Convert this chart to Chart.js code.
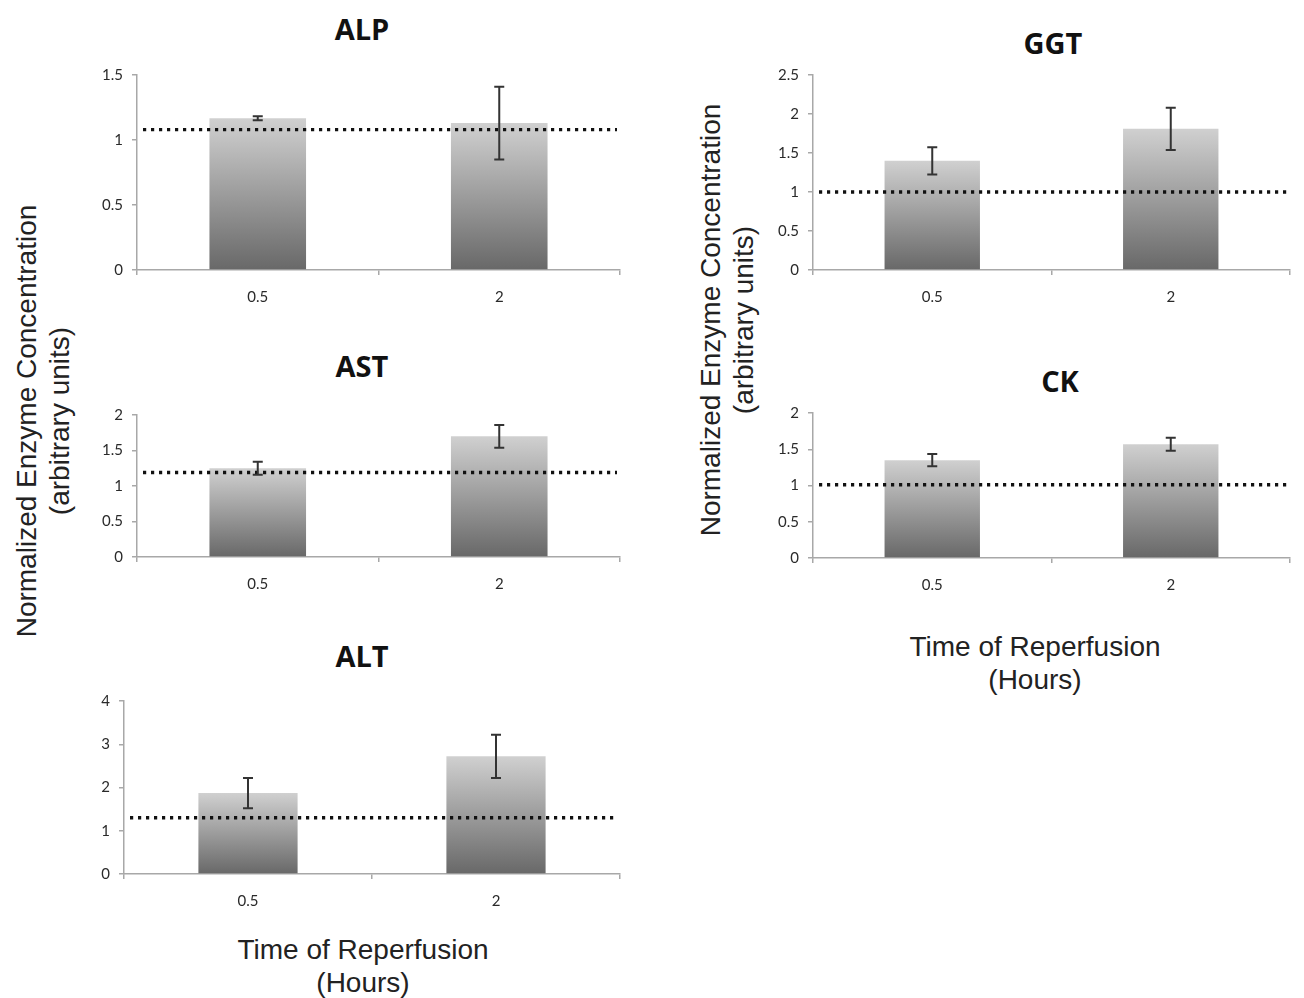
<!DOCTYPE html>
<html>
<head>
<meta charset="utf-8">
<script src="https://cdn.jsdelivr.net/npm/chart.js@4.4.1/dist/chart.umd.min.js"></script>
<style>
  html, body { margin: 0; padding: 0; background: #fff; }
  body { width: 1304px; height: 998px; position: relative; overflow: hidden; }
  .box { position: absolute; }
  .ttl { position: absolute; font-family: "Open Sans", sans-serif; font-weight: bold; font-size: 29px; color: #111; transform: translate(-50%, -50%); white-space: nowrap; }
  .axt { position: absolute; font-family: "Liberation Sans", Arial, sans-serif; font-size: 28px; color: #222; text-align: center; line-height: 33px; white-space: nowrap; transform: translate(-50%, -50%); }
  .axt.rot { transform: translate(-50%, -50%) rotate(-90deg); }
</style>
</head>
<body>

<div class="ttl" style="left:362px; top:28px;">ALP</div>
<div class="ttl" style="left:362px; top:365px;">AST</div>
<div class="ttl" style="left:362px; top:655px;">ALT</div>
<div class="ttl" style="left:1053px; top:42px;">GGT</div>
<div class="ttl" style="left:1060px; top:380px;">CK</div>

<div class="axt rot" style="left:43px; top:421px;">Normalized Enzyme Concentration<br>(arbitrary units)</div>
<div class="axt rot" style="left:727px; top:320px;">Normalized Enzyme Concentration<br>(arbitrary units)</div>
<div class="axt" style="left:363px; top:966px;">Time of Reperfusion<br>(Hours)</div>
<div class="axt" style="left:1035px; top:663px;">Time of Reperfusion<br>(Hours)</div>

<div class="box" id="b_alp"><canvas id="alp"></canvas></div>
<div class="box" id="b_ast"><canvas id="ast"></canvas></div>
<div class="box" id="b_alt"><canvas id="alt"></canvas></div>
<div class="box" id="b_ggt"><canvas id="ggt"></canvas></div>
<div class="box" id="b_ck"><canvas id="ck"></canvas></div>

<script>
// time of reperfusion (hours)
const categories = ['0.5', '2'];

// bar means and error (+/-) per enzyme
const alpValues = [1.167, 1.13];
const alpErrors = [0.015, 0.28];
const astValues = [1.25, 1.70];
const astErrors = [0.09, 0.16];
const altValues = [1.87, 2.72];
const altErrors = [0.35, 0.50];
const ggtValues = [1.40, 1.81];
const ggtErrors = [0.175, 0.27];
const ckValues = [1.35, 1.57];
const ckErrors = [0.085, 0.09];

// dotted reference level per enzyme
const alpBaseline = 1.08;
const astBaseline = 1.19;
const altBaseline = 1.30;
const ggtBaseline = 1.0;
const ckBaseline = 1.01;

// y axis ranges
const alpTicks = { max: 1.5, step: 0.5 };
const astTicks = { max: 2, step: 0.5 };
const altTicks = { max: 4, step: 1 };
const ggtTicks = { max: 2.5, step: 0.5 };
const ckTicks = { max: 2, step: 0.5 };

// chart.js keeps room above the area for the top y label (measured ~18px)
const Y_W = 40, TOP_OVER = 18, PAD_R = 8, X_H = 40;

function barFill(ctx) {
    const chart = ctx.chart;
    if (!chart.chartArea || ctx.type !== 'data') return '#999';
    const y = chart.scales.y;
    const top = y.getPixelForValue(ctx.raw);
    const bottom = y.getPixelForValue(0);
    const g = chart.ctx.createLinearGradient(0, top, 0, bottom);
    g.addColorStop(0, '#d0d0d0');
    g.addColorStop(1, '#686868');
    return g;
}

function extrasPlugin(errors, baseline) {
    return {
        id: 'extras',
        afterDatasetsDraw(chart) {
            const c = chart.ctx;
            const y = chart.scales.y;
            const meta = chart.getDatasetMeta(0);
            const area = chart.chartArea;

            // dotted reference line
            const by = y.getPixelForValue(baseline);
            c.save();
            c.strokeStyle = '#111';
            c.lineWidth = 3.4;
            c.setLineDash([3.2, 4.8]);
            c.beginPath();
            c.moveTo(area.left + 6, by);
            c.lineTo(area.right - 3, by);
            c.stroke();
            c.restore();

            // error bars
            c.save();
            c.strokeStyle = '#333';
            c.lineWidth = 2;
            meta.data.forEach((bar, i) => {
                const v = chart.data.datasets[0].data[i];
                const yt = y.getPixelForValue(v + errors[i]);
                const yb = y.getPixelForValue(v - errors[i]);
                c.beginPath();
                c.moveTo(bar.x, yt); c.lineTo(bar.x, yb);
                c.moveTo(bar.x - 5, yt); c.lineTo(bar.x + 5, yt);
                c.moveTo(bar.x - 5, yb); c.lineTo(bar.x + 5, yb);
                c.stroke();
            });
            c.restore();
        }
    };
}

function makeChart(id, area, values, errors, baseline, ticks) {
    const box = document.getElementById('b_' + id);
    const left = area.l - Y_W;
    const top = area.t - TOP_OVER;
    box.style.left = left + 'px';
    box.style.top = top + 'px';
    box.style.width = (area.r - left + PAD_R) + 'px';
    box.style.height = (area.b + X_H - top) + 'px';

    new Chart(document.getElementById(id), {
        type: 'bar',
        data: {
            labels: categories,
            datasets: [{
                data: values,
                backgroundColor: barFill,
                borderWidth: 0,
                barPercentage: 0.4,
                categoryPercentage: 1
            }]
        },
        options: {
            responsive: true,
            maintainAspectRatio: false,
            animation: false,
            layout: { padding: { top: 0, right: PAD_R, left: 0, bottom: 0 } },
            plugins: {
                legend: { display: false },
                tooltip: { enabled: false }
            },
            scales: {
                x: {
                    grid: {
                        display: true,
                        drawOnChartArea: false,
                        drawTicks: true,
                        tickLength: 5,
                        offset: true,
                        color: '#a8a8a8',
                        lineWidth: 1.5
                    },
                    border: { color: '#a8a8a8', width: 1.5 },
                    ticks: {
                        padding: 13,
                        color: '#2a2a2a',
                        font: { family: 'Lato, "Open Sans", sans-serif', size: 15 }
                    },
                    afterFit(scale) { scale.height = X_H; }
                },
                y: {
                    min: 0,
                    max: ticks.max,
                    grid: {
                        display: true,
                        drawOnChartArea: false,
                        drawTicks: true,
                        tickLength: 5,
                        color: '#a8a8a8',
                        lineWidth: 1.5
                    },
                    border: { color: '#a8a8a8', width: 1.5 },
                    ticks: {
                        stepSize: ticks.step,
                        padding: 9,
                        color: '#2a2a2a',
                        font: { family: 'Lato, "Open Sans", sans-serif', size: 15 },
                        callback: v => String(v)
                    },
                    afterFit(scale) { scale.width = Y_W; }
                }
            }
        },
        plugins: [extrasPlugin(errors, baseline)]
    });
}

makeChart('alp', { l: 137, t: 75, r: 620, b: 270 }, alpValues, alpErrors, alpBaseline, alpTicks);
makeChart('ast', { l: 137, t: 415, r: 620, b: 557 }, astValues, astErrors, astBaseline, astTicks);
makeChart('alt', { l: 124, t: 701, r: 620, b: 874 }, altValues, altErrors, altBaseline, altTicks);
makeChart('ggt', { l: 813, t: 75, r: 1290, b: 270 }, ggtValues, ggtErrors, ggtBaseline, ggtTicks);
makeChart('ck', { l: 813, t: 413, r: 1290, b: 558 }, ckValues, ckErrors, ckBaseline, ckTicks);
</script>
</body>
</html>
